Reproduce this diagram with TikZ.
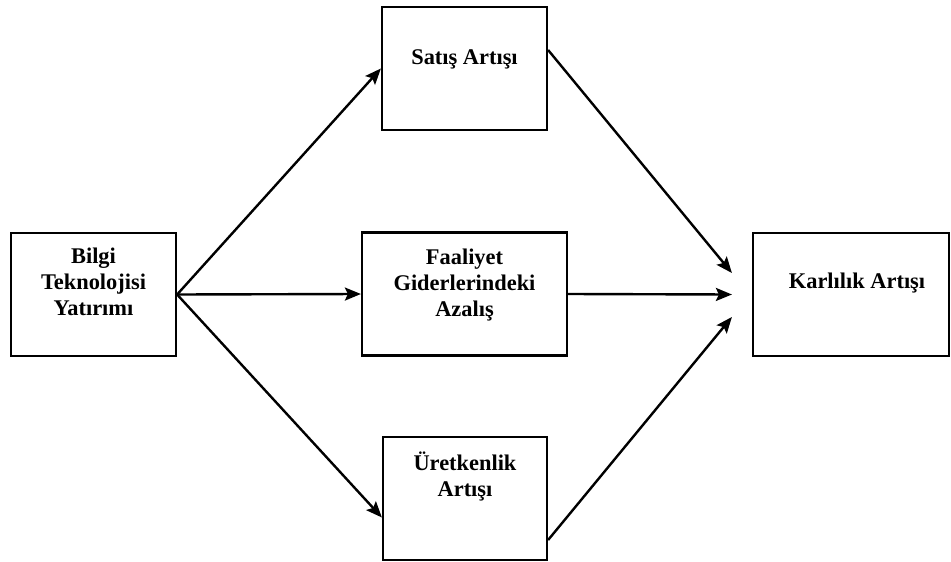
\documentclass[tikz,border=0pt]{standalone}
\usepackage{fontspec}
\setmainfont{Liberation Serif}
\usetikzlibrary{positioning,arrows.meta}

\begin{document}
\begin{tikzpicture}[x=0.5pt, y=-0.5pt,
box/.style={draw, line width=1.1pt, minimum width=#1, minimum height=61.5pt, inner sep=0pt},
txt/.style={font=\fontsize{11.2}{13}\selectfont\bfseries, align=center, inner sep=0pt},
arr/.style={line width=1.2pt, -{Stealth[length=8pt, width=6.5pt, inset=1.5pt]}}]
\useasboundingbox (0,0) rectangle (951,561);
% boxes
\node[box=82.5pt] (bti) at (93.5,294.5) {};
\node[box=82.5pt] (satis) at (464.5,68.5) {};
\node[box=102.5pt] (faaliyet) at (464.5,294) {};
\node[box=82pt] (uretkenlik) at (465,498.5) {};
\node[box=98pt] (karlilik) at (851,294.5) {};
% texts
\node[txt, below=8pt of bti.north] (btitxt) {Bilgi\\Teknolojisi\\Yatırımı};
\node[txt, below=21.5pt of satis.north] (satistxt) {Satış Artışı};
\node[txt, below=8.5pt of faaliyet.north] (faaliyettxt) {Faaliyet\\Giderlerindeki\\Azalış};
\node[txt, below=8pt of uretkenlik.north] (uretkenliktxt) {Üretkenlik\\Artışı};
\node[txt, below=20.5pt of karlilik.north, xshift=3pt] (karliliktxt) {Karlılık Artışı};
% free ends in front of the last box
\coordinate (kin1) at ([xshift=-10pt, yshift=10.75pt]karlilik.west);
\coordinate (kin2) at ([xshift=-10pt]karlilik.west);
\coordinate (kin3) at ([xshift=-10pt, yshift=-11.25pt]karlilik.west);
% arrows
\draw[arr] (bti.east) -- (satis.west);
\draw[arr] (bti.east) -- (faaliyet.west);
\draw[arr] (bti.east) -- ([yshift=-9.5pt]uretkenlik.west);
\draw[arr] ([yshift=9.25pt]satis.east) -- (kin1);
\draw[arr] (faaliyet.east) -- (kin2);
\draw[arr] ([yshift=-20.75pt]uretkenlik.east) -- (kin3);
\end{tikzpicture}
\end{document}
